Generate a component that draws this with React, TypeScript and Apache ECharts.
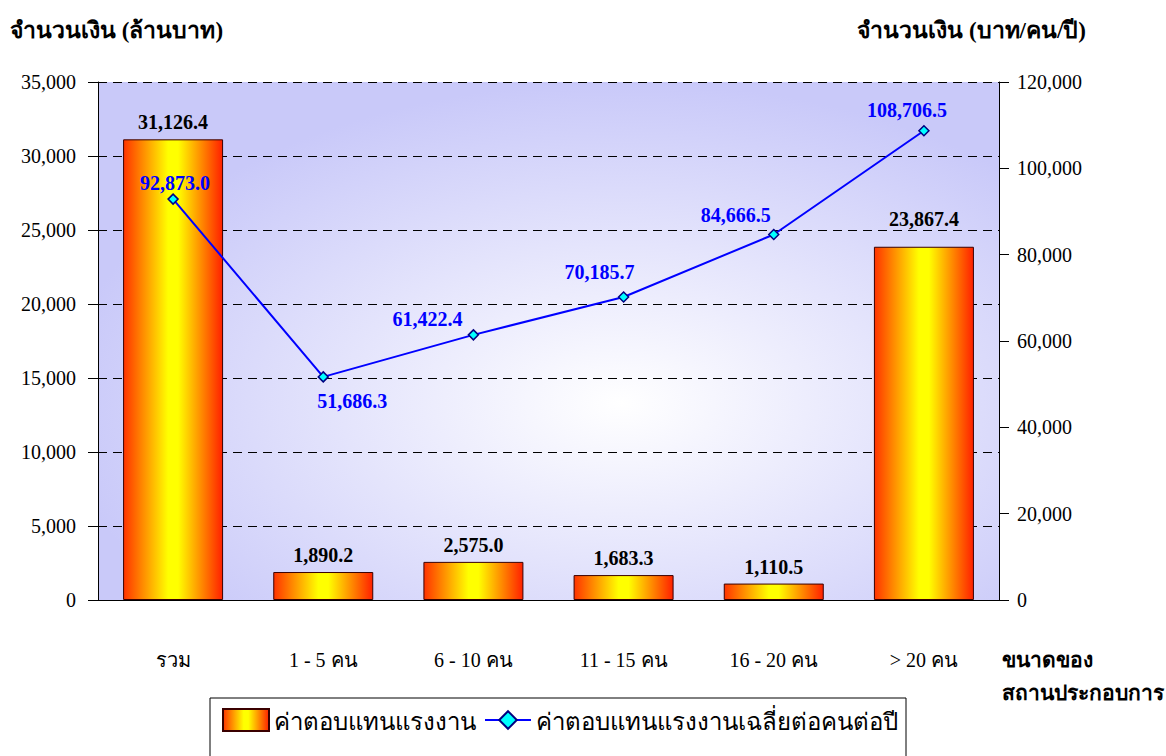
import React, { useEffect, useRef } from "react";
import * as echarts from "echarts";

const categories = ["รวม", "1 - 5 คน", "6 - 10 คน", "11 - 15 คน", "16 - 20 คน", "> 20 คน"];
const wagesMillion = [31126.4, 1890.2, 2575.0, 1683.3, 1110.5, 23867.4];
const avgPerPerson = [92873.0, 51686.3, 61422.4, 70185.7, 84666.5, 108706.5];
const seriesNames = ["ค่าตอบแทนแรงงาน", "ค่าตอบแทนแรงงานเฉลี่ยต่อคนต่อปี"];
const leftTitle = "จำนวนเงิน (ล้านบาท)";
const rightTitle = "จำนวนเงิน (บาท/คน/ปี)";
const xTitle = "ขนาดของ\nสถานประกอบการ";
const barLabelOffsetY = [0, 0, 0, 0, 0, -11];
const lineLabelPlacement = [
  { position: "top", offset: [2, 6] },
  { position: "bottom", offset: [29, 2] },
  { position: "top", offset: [-46, 6] },
  { position: "top", offset: [-24, -3] },
  { position: "top", offset: [-38, 2] },
  { position: "top", offset: [-17, 1] },
];

const SERIF = '"Liberation Serif", "Times New Roman", serif';
const fmt = (v: number, d = 0) =>
  v.toLocaleString("en-US", { minimumFractionDigits: d, maximumFractionDigits: d });

export default function App() {
  const ref = useRef<HTMLDivElement>(null);
  useEffect(() => {
    document.body.style.margin = "0";
    const chart = echarts.init(ref.current!, null, { renderer: "svg" });
    const barGrad = new echarts.graphic.LinearGradient(0, 0, 1, 0, [
      { offset: 0, color: "#ff3300" },
      { offset: 0.45, color: "#ffff00" },
      { offset: 0.55, color: "#ffff00" },
      { offset: 1, color: "#ff2000" },
    ]);
    chart.setOption({
      animation: false,
      textStyle: { fontFamily: SERIF },
      grid: {
        left: 98,
        right: 167,
        top: 82,
        bottom: 156,
        show: true,
        borderWidth: 0,
        backgroundColor: new echarts.graphic.RadialGradient(0.58, 0.62, 0.62, [
          { offset: 0, color: "#ffffff" },
          { offset: 1, color: "#c9c9f9" },
        ]),
      },
      legend: {
        left: 210,
        top: 698,
        padding: [10, 8, 40, 12],
        itemGap: 8,
        itemWidth: 46,
        itemHeight: 22,
        borderColor: "#000",
        borderWidth: 1,
        backgroundColor: "#fff",
        textStyle: { fontSize: 24, color: "#000", fontFamily: '"Noto Sans", sans-serif' },
        data: [
          { name: seriesNames[0], icon: "rect" },
          { name: seriesNames[1] },
        ],
      },
      xAxis: {
        type: "category",
        data: categories,
        axisLine: { lineStyle: { color: "#000", width: 1 } },
        axisTick: { length: 10, lineStyle: { color: "#000" } },
        axisLabel: { margin: 50, fontSize: 20, color: "#000", fontFamily: SERIF },
      },
      yAxis: [
        {
          type: "value",
          min: 0,
          max: 35000,
          interval: 5000,
          axisLine: { show: true, lineStyle: { color: "#000" } },
          axisTick: { show: true, length: 10, lineStyle: { color: "#000" } },
          axisLabel: {
            fontSize: 20,
            color: "#000",
            margin: 22,
            fontFamily: SERIF,
            formatter: (v: number) => fmt(v),
          },
          splitLine: { show: true, lineStyle: { color: "#000", type: [9, 6], width: 1 } },
        },
        {
          type: "value",
          min: 0,
          max: 120000,
          interval: 20000,
          position: "right",
          axisLine: { show: true, lineStyle: { color: "#000" } },
          axisTick: { show: true, length: 10, lineStyle: { color: "#000" } },
          axisLabel: {
            fontSize: 20,
            color: "#000",
            margin: 18,
            fontFamily: SERIF,
            formatter: (v: number) => fmt(v),
          },
          splitLine: { show: false },
        },
      ],
      series: [
        {
          name: seriesNames[0],
          type: "bar",
          yAxisIndex: 0,
          barWidth: 100,
          data: wagesMillion.map((v, i) => ({
            value: v,
            label: { offset: [0, barLabelOffsetY[i]] },
          })),
          itemStyle: { color: barGrad, borderColor: "#3a0000", borderWidth: 1 },
          label: {
            show: true,
            position: "top",
            distance: 7,
            fontSize: 20,
            fontWeight: "bold",
            color: "#000",
            fontFamily: SERIF,
            formatter: (p: any) => fmt(p.value, 1),
          },
        },
        {
          name: seriesNames[1],
          type: "line",
          yAxisIndex: 1,
          symbol: "diamond",
          symbolSize: 10,
          lineStyle: { color: "#0000ff", width: 2 },
          itemStyle: { color: "#00ffff", borderColor: "#000080", borderWidth: 1.5 },
          data: avgPerPerson.map((v, i) => ({
            value: v,
            label: {
              show: true,
              position: lineLabelPlacement[i].position,
              offset: lineLabelPlacement[i].offset,
              distance: 6,
              fontSize: 20,
              fontWeight: "bold",
              color: "#0000ff",
              fontFamily: SERIF,
              formatter: (p: any) => fmt(p.value, 1),
            },
          })),
        },
      ],
      graphic: [
        {
          type: "text",
          left: 10,
          top: 19,
          style: { text: leftTitle, fill: "#000", font: `bold 23px ${SERIF}` },
        },
        {
          type: "text",
          right: 80,
          top: 19,
          style: { text: rightTitle, fill: "#000", font: `bold 23px ${SERIF}` },
        },
        {
          type: "text",
          left: 1002,
          top: 643,
          style: {
            text: xTitle,
            lineHeight: 33,
            fill: "#000",
            font: `bold 21px ${SERIF}`,
          },
        },
      ],
    });
    return () => chart.dispose();
  }, []);
  return <div ref={ref} style={{ width: 1166, height: 756 }} />;
}
